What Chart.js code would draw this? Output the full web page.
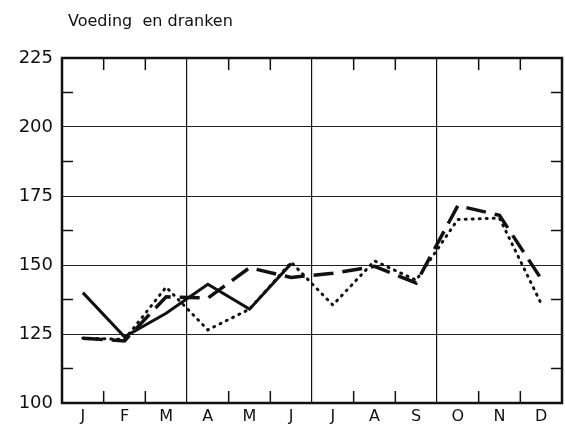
<!DOCTYPE html>
<html>
<head>
<meta charset="utf-8">
<script src="https://cdn.jsdelivr.net/npm/chart.js@4"></script>
<style>
  html, body { margin: 0; padding: 0; background: #fff; }
  #wrap { width: 565px; height: 430px; }
</style>
</head>
<body>
<div id="wrap"><canvas id="voedingChart" width="565" height="430"></canvas></div>
<script>
const months = ['J', 'F', 'M', 'A', 'M', 'J', 'J', 'A', 'S', 'O', 'N', 'D'];
const solidLine = [140, 124, 132.5, 143, 134, 150.5, null, null, null, null, null, null];
const dashedLine = [123.5, 122.5, 138.5, 138, 149, 145.5, 147, 149.5, 143.5, 171.5, 168, 145];
const dottedLine = [123.5, 123, 142, 126.5, 134, 151, 135.5, 151.5, 144.5, 166.5, 167, 136];
const yTicks = [100, 125, 150, 175, 200, 225];
const chartTitle = 'Voeding  en dranken';

const fontFam = "'DejaVu Sans', sans-serif";

// frame, inner tick marks and title
const framePlugin = {
  id: 'frame',
  afterDraw(chart) {
    const ctx = chart.ctx;
    const area = chart.chartArea;
    const xs = chart.scales.x;
    const ys = chart.scales.y;
    ctx.save();
    ctx.strokeStyle = '#111';
    ctx.lineWidth = 1.5;
    // y minor ticks, both sides
    for (let v = 112.5; v < 225; v += 25) {
      const y = ys.getPixelForValue(v);
      ctx.beginPath();
      ctx.moveTo(area.left, y); ctx.lineTo(area.left + 11, y);
      ctx.moveTo(area.right, y); ctx.lineTo(area.right - 11, y);
      ctx.stroke();
    }
    // month boundary ticks, top and bottom
    for (let i = 1; i < months.length; i++) {
      if (i % 3 === 0) continue;
      const x = (xs.getPixelForValue(i - 1) + xs.getPixelForValue(i)) / 2;
      ctx.beginPath();
      ctx.moveTo(x, area.bottom); ctx.lineTo(x, area.bottom - 12);
      ctx.moveTo(x, area.top); ctx.lineTo(x, area.top + 12);
      ctx.stroke();
    }
    ctx.lineWidth = 2.5;
    ctx.strokeRect(area.left, area.top, area.right - area.left, area.bottom - area.top);
    ctx.fillStyle = '#111';
    ctx.font = '16px ' + fontFam;
    ctx.textBaseline = 'middle';
    ctx.fillText(chartTitle, 68, 22);
    ctx.restore();
  }
};

new Chart(document.getElementById('voedingChart'), {
  type: 'line',
  data: {
    labels: months,
    datasets: [
      { data: solidLine, borderColor: '#111', borderWidth: 3, pointRadius: 0, tension: 0, spanGaps: false },
      { data: dashedLine, borderColor: '#111', borderWidth: 3.5, borderDash: [20, 9], pointRadius: 0, tension: 0 },
      { data: dottedLine, borderColor: '#111', borderWidth: 3, borderDash: [1, 6], borderCapStyle: 'round', pointRadius: 0, tension: 0 }
    ]
  },
  options: {
    responsive: false,
    animation: false,
    layout: { padding: { top: 58, right: 3, left: 0, bottom: 0 } },
    plugins: { legend: { display: false }, tooltip: { enabled: false } },
    scales: {
      x: {
        offset: true,
        grid: {
          offset: true,
          drawTicks: false,
          color: (c) => (c.index % 3 === 0 && c.index > 0 && c.index < 12 ? '#111' : 'rgba(0,0,0,0)'),
          lineWidth: 1.2
        },
        border: { display: false },
        ticks: { color: '#111', font: { family: fontFam, size: 16 }, padding: 4, maxRotation: 0 },
        afterFit: (s) => { s.height = 27; }
      },
      y: {
        min: 100,
        max: 225,
        afterBuildTicks: (s) => { s.ticks = yTicks.map((v) => ({ value: v })); },
        grid: {
          drawTicks: false,
          color: '#222',
          lineWidth: 1
        },
        border: { display: false, dash: [] },
        ticks: { color: '#111', font: { family: fontFam, size: 18 }, padding: 9 },
        afterFit: (s) => { s.width = 62; }
      }
    }
  },
  plugins: [framePlugin]
});
</script>
</body>
</html>
